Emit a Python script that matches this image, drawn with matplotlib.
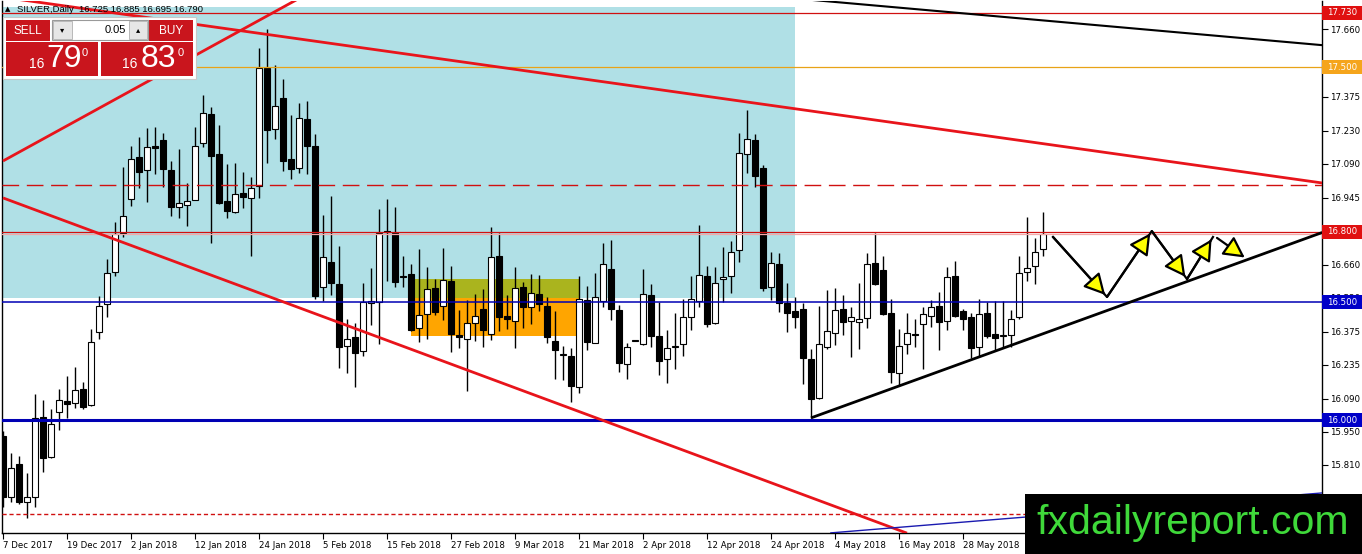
import matplotlib
matplotlib.use("Agg")
import matplotlib.pyplot as plt
from matplotlib.patches import Rectangle

W, H = 1362, 554

# daily OHLC, first bar is 7 Dec 2017
opens = [15.930, 15.673, 15.813, 15.652, 15.673, 16.013, 15.843, 16.034, 16.081, 16.072,
         16.132, 16.064, 16.374, 16.493, 16.629, 16.795, 16.939, 17.118, 17.062, 17.165,
         17.190, 17.062, 16.905, 16.914, 16.935, 17.177, 17.300, 17.130, 16.931, 16.884,
         16.965, 16.944, 16.995, 17.496, 17.237, 17.369, 17.109, 17.071, 17.279, 17.165,
         16.565, 16.672, 16.578, 16.315, 16.353, 16.293, 16.497, 16.501, 16.800, 16.795,
         16.612, 16.620, 16.391, 16.450, 16.561, 16.484, 16.591, 16.361, 16.344, 16.412,
         16.472, 16.365, 16.697, 16.442, 16.421, 16.565, 16.480, 16.535, 16.484, 16.336,
         16.276, 16.272, 16.140, 16.510, 16.327, 16.506, 16.642, 16.467, 16.238, 16.336,
         16.323, 16.531, 16.357, 16.259, 16.310, 16.323, 16.438, 16.506, 16.612, 16.412,
         16.599, 16.612, 16.722, 17.130, 17.190, 17.071, 16.565, 16.663, 16.497, 16.463,
         16.472, 16.259, 16.094, 16.310, 16.370, 16.472, 16.421, 16.416, 16.433, 16.667,
         16.637, 16.455, 16.200, 16.323, 16.366, 16.408, 16.442, 16.484, 16.421, 16.612,
         16.463, 16.438, 16.310, 16.455, 16.366, 16.357, 16.361, 16.438, 16.629, 16.655,
         16.725]
highs = [15.955, 15.860, 15.847, 15.775, 16.111, 16.085, 16.047, 16.132, 16.187, 16.225,
         16.162, 16.387, 16.527, 16.684, 16.842, 17.075, 17.165, 17.203, 17.241, 17.245,
         17.220, 17.101, 17.152, 17.007, 17.245, 17.381, 17.330, 17.254, 17.088, 17.092,
         17.054, 17.033, 17.581, 17.662, 17.509, 17.449, 17.296, 17.347, 17.356, 17.216,
         16.871, 16.952, 16.739, 16.429, 16.412, 16.582, 16.646, 16.897, 16.939, 16.905,
         16.697, 16.663, 16.727, 16.650, 16.599, 16.731, 16.655, 16.467, 16.510, 16.536,
         16.557, 16.820, 16.795, 16.531, 16.650, 16.587, 16.620, 16.616, 16.523, 16.463,
         16.315, 16.306, 16.612, 16.570, 16.625, 16.752, 16.765, 16.489, 16.327, 16.338,
         16.642, 16.578, 16.501, 16.382, 16.455, 16.514, 16.612, 16.829, 16.655, 16.650,
         16.735, 16.761, 17.220, 17.317, 17.216, 17.084, 16.714, 16.710, 16.582, 16.523,
         16.497, 16.302, 16.484, 16.552, 16.561, 16.531, 16.480, 16.582, 16.710, 16.795,
         16.697, 16.514, 16.387, 16.455, 16.429, 16.480, 16.510, 16.544, 16.650, 16.676,
         16.472, 16.455, 16.514, 16.501, 16.506, 16.506, 16.467, 16.697, 16.863, 16.774,
         16.885]
lows = [15.630, 15.652, 15.645, 15.584, 15.630, 15.779, 15.840, 15.957, 16.009, 16.051,
        16.047, 16.060, 16.344, 16.438, 16.612, 16.778, 16.910, 16.986, 16.927, 17.046,
        16.990, 16.867, 16.858, 16.824, 16.935, 17.160, 16.752, 16.920, 16.858, 16.880,
        16.901, 16.697, 16.944, 17.092, 17.194, 17.058, 17.024, 17.050, 17.046, 16.514,
        16.506, 16.531, 16.221, 16.200, 16.140, 16.272, 16.404, 16.323, 16.591, 16.565,
        16.565, 16.380, 16.332, 16.344, 16.446, 16.425, 16.289, 16.306, 16.123, 16.336,
        16.310, 16.340, 16.378, 16.387, 16.306, 16.391, 16.408, 16.463, 16.327, 16.174,
        16.170, 16.077, 16.115, 16.297, 16.327, 16.480, 16.425, 16.204, 16.174, 16.334,
        16.320, 16.310, 16.191, 16.157, 16.217, 16.272, 16.382, 16.480, 16.395, 16.408,
        16.501, 16.540, 16.672, 17.050, 16.990, 16.548, 16.510, 16.459, 16.374, 16.391,
        16.153, 16.009, 16.090, 16.300, 16.319, 16.361, 16.268, 16.302, 16.391, 16.575,
        16.447, 16.157, 16.144, 16.280, 16.310, 16.217, 16.395, 16.297, 16.382, 16.438,
        16.382, 16.264, 16.268, 16.349, 16.297, 16.310, 16.310, 16.429, 16.591, 16.578,
        16.695]
closes = [15.673, 15.796, 15.652, 15.673, 16.009, 15.838, 15.983, 16.085, 16.068, 16.128,
          16.055, 16.332, 16.484, 16.625, 16.791, 16.867, 17.109, 17.054, 17.160, 17.156,
          17.067, 16.905, 16.922, 16.931, 17.165, 17.305, 17.122, 16.922, 16.888, 16.960,
          16.948, 16.986, 17.496, 17.233, 17.335, 17.101, 17.067, 17.284, 17.165, 16.527,
          16.693, 16.582, 16.310, 16.344, 16.285, 16.501, 16.506, 16.795, 16.798, 16.587,
          16.608, 16.382, 16.446, 16.557, 16.459, 16.595, 16.365, 16.353, 16.412, 16.442,
          16.382, 16.693, 16.438, 16.429, 16.561, 16.480, 16.540, 16.493, 16.353, 16.297,
          16.276, 16.144, 16.514, 16.332, 16.523, 16.663, 16.472, 16.242, 16.310, 16.336,
          16.535, 16.357, 16.251, 16.306, 16.310, 16.438, 16.514, 16.616, 16.408, 16.582,
          16.608, 16.714, 17.135, 17.194, 17.037, 16.561, 16.667, 16.497, 16.455, 16.438,
          16.264, 16.089, 16.323, 16.378, 16.467, 16.416, 16.438, 16.429, 16.663, 16.578,
          16.450, 16.204, 16.315, 16.370, 16.361, 16.450, 16.480, 16.416, 16.608, 16.442,
          16.429, 16.306, 16.450, 16.357, 16.349, 16.357, 16.429, 16.625, 16.646, 16.714,
          16.790]
assert len(opens) == len(highs) == len(lows) == len(closes)

date_labels = ["7 Dec 2017", "19 Dec 2017", "2 Jan 2018", "12 Jan 2018", "24 Jan 2018",
               "5 Feb 2018", "15 Feb 2018", "27 Feb 2018", "9 Mar 2018", "21 Mar 2018",
               "2 Apr 2018", "12 Apr 2018", "24 Apr 2018", "4 May 2018", "16 May 2018",
               "28 May 2018"]
date_label_bars = [8 * i for i in range(len(date_labels))]
price_ticks = [17.660, 17.515, 17.375, 17.230, 17.090, 16.945, 16.800, 16.660,
               16.520, 16.375, 16.235, 16.090, 15.950, 15.810, 15.670]

# zones: (first bar, last bar, low, high, colour)
zone_bars = [(-5, 99), (51, 72), (51, 72)]
zone_prices = [(16.518, 17.756), (16.357, 16.600), (16.518, 16.600)]
zone_colors = ["#b0e0e6", "#ffa500", "#aab41e"]

# horizontal levels
level_prices = [17.730, 17.500, 17.000, 16.800, 16.792, 16.500, 16.000, 15.600]
level_colors = ["#d01010", "#e8a317", "#d01010", "#d01010", "#f4a8a8", "#0000b4", "#0000b4", "#d01010"]
level_widths = [0.9, 0.9, 1.0, 0.9, 0.9, 1.1, 2.2, 1.0]
level_dashes = [None, None, (12, 5.5), None, None, None, None, (3, 2)]

# labelled levels on the price axis
tag_prices = [17.730, 17.500, 16.800, 16.500, 16.000]
tag_colors = ["#e01010", "#f5a51c", "#e01010", "#0000c8", "#0000c8"]

# trend lines: (bar, price) -> (bar, price)
trend_start = [(0, 17.101), (0, 17.797), (0, 16.944), (95, 17.804), (101, 16.009), (103.4, 15.52)]
trend_end = [(40, 17.848), (165, 17.007), (113, 15.519), (165, 17.593), (164.9, 16.797), (164.9, 15.69)]
trend_colors = ["#e8141b", "#e8141b", "#e8141b", "black", "black", "#1a1ab0"]
trend_widths = [2.0, 2.0, 2.0, 1.5, 2.0, 1.0]

# projected zig-zag path
zigzag_bars = [131.25, 138.0, 143.6, 148.0, 151.25]
zigzag_prices = [16.778, 16.523, 16.803, 16.599, 16.778]
last_arrow = [(151.75, 16.774), (155.5, 16.684)]


def fig_rect(x0, y0, x1, y1, **kw):
    # pixel box (from top-left of image) -> figure rectangle
    r = Rectangle((x0 / W, 1 - y1 / H), (x1 - x0) / W, (y1 - y0) / H,
                  transform=fig.transFigure, **kw)
    fig.add_artist(r)
    return r


def fig_text(x, y, s, **kw):
    return fig.text(x / W, 1 - y / H, s, **kw)


fig = plt.figure(figsize=(W / 100, H / 100), dpi=100)
ax = fig.add_axes([2 / W, (H - 533) / H, 1320 / W, 532 / H])
ax.set_xlim(-0.125, 164.875)
ax.set_ylim(15.5197, 17.781)

for (b0, b1), (p0, p1), c in zip(zone_bars, zone_prices, zone_colors):
    ax.add_patch(Rectangle((b0, p0), b1 - b0, p1 - p0, facecolor=c, edgecolor="none", zorder=0.5))

# candles
for i, (o, h, l, c) in enumerate(zip(opens, highs, lows, closes)):
    ax.vlines(i, l, h, color="black", lw=1.0, zorder=2)
    bottom = min(o, c)
    height = max(abs(c - o), 0.006)
    fc = "white" if c >= o else "black"
    ax.bar(i, height, bottom=bottom, width=0.7, color=fc, edgecolor="black", lw=0.8, zorder=2.1)

for p, c, lw, d in zip(level_prices, level_colors, level_widths, level_dashes):
    line = ax.axhline(p, color=c, lw=lw, zorder=3)
    if d is not None:
        line.set_dashes(d)

for (b0, p0), (b1, p1), c, lw in zip(trend_start, trend_end, trend_colors, trend_widths):
    ax.plot([b0, b1], [p0, p1], color=c, lw=lw, zorder=3.2, solid_capstyle="butt")

arrow_style = dict(arrowstyle="-|>,head_length=0.85,head_width=0.45", fc="yellow", ec="black",
                   lw=1.6, mutation_scale=15, shrinkA=0, shrinkB=2)
segs = list(zip(zip(zigzag_bars[:-1], zigzag_prices[:-1]), zip(zigzag_bars[1:], zigzag_prices[1:])))
segs.append(tuple(last_arrow))
for start, end in segs:
    ax.annotate("", xy=end, xytext=start, arrowprops=arrow_style, zorder=4)
# the path itself runs on through each arrow head
ax.plot(zigzag_bars, zigzag_prices, color="black", lw=1.6, zorder=3.9)

# axes look
for side in ["left", "right", "bottom"]:
    ax.spines[side].set_color("black")
    ax.spines[side].set_linewidth(1.0)
ax.spines["top"].set_visible(False)
ax.yaxis.tick_right()
ax.set_yticks(price_ticks)
ax.set_yticklabels([f"{v:.3f}" for v in price_ticks])
ax.set_xticks(date_label_bars)
ax.set_xticklabels(date_labels)
for lab in ax.get_xticklabels():
    lab.set_ha("left")
ax.tick_params(axis="both", length=4, width=0.8, pad=1.5, labelsize=6.2, colors="black")

ytr = ax.get_yaxis_transform()
for p, c in zip(tag_prices, tag_colors):
    ax.add_patch(Rectangle((1.0, p - 0.030), 40 / 1320, 0.060, transform=ytr, facecolor=c,
                           edgecolor="none", clip_on=False, zorder=6))
    ax.text(1.0 + 5 / 1320, p, f"{p:.3f}", transform=ytr, color="white", fontsize=6.2,
            va="center", ha="left", clip_on=False, zorder=7)

# title
fig_text(5, 9, "\u25b2", fontsize=5, family="DejaVu Sans", va="center", zorder=15)
fig_text(17, 9, "SILVER,Daily  16.725 16.885 16.695 16.790", fontsize=6.8,
         family=["Liberation Sans", "DejaVu Sans"], va="center", zorder=15)

# one-click trading panel
red = "#c9151d"
fig_rect(3, 17, 196, 79, facecolor="white", edgecolor="#c8c8c8", lw=0.8, zorder=15)
fig_rect(6, 20, 50, 41, facecolor=red, edgecolor="none", zorder=16)
fig_rect(149, 20, 193, 41, facecolor=red, edgecolor="none", zorder=16)
fig_rect(6, 42, 98, 76, facecolor=red, edgecolor="none", zorder=16)
fig_rect(101, 42, 193, 76, facecolor=red, edgecolor="none", zorder=16)
fig_rect(52, 20, 148, 40, facecolor="white", edgecolor="#9a9a9a", lw=0.8, zorder=16)
fig_rect(53, 21, 72, 39, facecolor="#e6e6e6", edgecolor="#b0b0b0", lw=0.6, zorder=17)
fig_rect(129, 21, 147, 39, facecolor="#e6e6e6", edgecolor="#b0b0b0", lw=0.6, zorder=17)
fig_text(62.5, 30, "\u25be", fontsize=6, family="DejaVu Sans", ha="center", va="center", zorder=18)
fig_text(138, 30, "\u25b4", fontsize=6, family="DejaVu Sans", ha="center", va="center", zorder=18)
fig_text(126, 30, "0.05", fontsize=8, family="Liberation Sans", ha="right", va="center", zorder=18)
fig_text(28, 31, "SELL", fontsize=8.5, family="Liberation Sans", color="white", ha="center", va="center", zorder=18)
fig_text(171, 31, "BUY", fontsize=8.5, family="Liberation Sans", color="white", ha="center", va="center", zorder=18)
for x16, xbig, xsup, big in [(37, 64, 85, "79"), (130, 158, 181, "83")]:
    fig_text(x16, 64, "16", fontsize=10, family="Liberation Sans", color="white", ha="center", va="center", zorder=18)
    fig_text(xbig, 59, big, fontsize=23, family="Liberation Sans", color="white", ha="center", va="center", zorder=18)
    fig_text(xsup, 53, "0", fontsize=8, family="Liberation Sans", color="white", ha="center", va="center", zorder=18)

# watermark
fig_rect(1025, 494, W, H, facecolor="black", edgecolor="none", zorder=20)
fig_text(1193, 523, "fxdailyreport.com", fontsize=29.5, family="Liberation Sans", color="#3fd93a",
         ha="center", va="center", zorder=21)

fig.savefig("out.png", dpi=100)
